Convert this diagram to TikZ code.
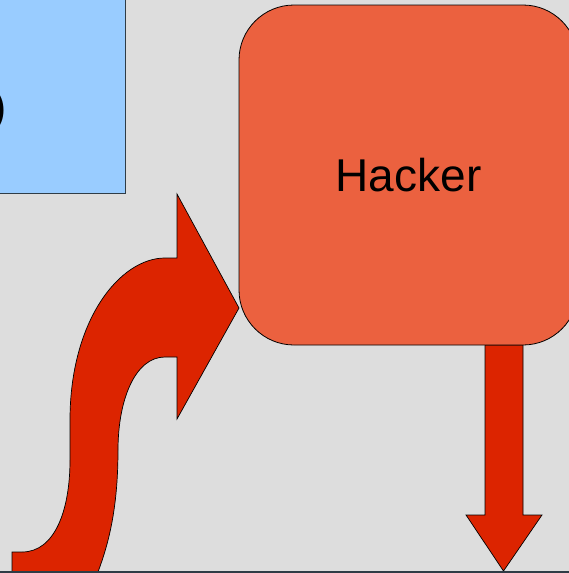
\documentclass[tikz,border=0pt]{standalone}
\usepackage{fontspec}
\setsansfont{Liberation Sans}
\usepackage{tikz}
\usetikzlibrary{positioning}
\definecolor{pagebg}{RGB}{221,221,221}
\definecolor{victimbg}{RGB}{153,204,255}
\definecolor{hackerbg}{RGB}{235,97,63}
\definecolor{arrowred}{RGB}{220,36,0}
\definecolor{edgegray}{RGB}{47,60,70}

\begin{document}
\begin{tikzpicture}[x=1pt, y=-1pt,
    box/.style={rectangle, draw=black, line width=0.8pt, inner sep=0pt, align=center, font=\sffamily\fontsize{46}{52}\selectfont},
    blockarrow/.style={draw=black, line width=0.7pt, fill=arrowred, line join=miter}
]
\useasboundingbox (0,0) rectangle (569,573);
\clip (0,0) rectangle (569,573);
\fill[pagebg] (0,0) rectangle (569,573);

% partly visible box on the left
\node[box, draw=edgegray, fill=victimbg, minimum width=140pt, minimum height=204pt] (victim) at (55.5,91) {};
\node[font=\sffamily\fontsize{46}{52}\selectfont, inner sep=0pt, anchor=east] (paren) at (7,111) {)};

% curved arrow towards the hacker
\draw[blockarrow] (12,572) -- (12,552) -- (22,552)
    .. controls (55,552) and (70,510) .. (70,460) -- (70,420)
    .. controls (70,320) and (120,258) .. (165,258) -- (177,258)
    -- (177,194) -- (239,308) -- (177,419) -- (177,357) -- (165,357)
    .. controls (135,357) and (118,400) .. (118,450)
    .. controls (118,510) and (108,545) .. (98,572) -- cycle;

% arrow leaving the hacker
\draw[blockarrow] (485,345) -- (485,515) -- (466,515) -- (503.5,571) -- (542,515) -- (523,515) -- (523,345) -- cycle;

\node[box, fill=hackerbg, rounded corners=55pt, minimum width=339pt, minimum height=340pt] (hacker) at (408.5,175) {Hacker};

\draw[edgegray, line width=2pt] (0,572) -- (569,572);

\end{tikzpicture}
\end{document}
